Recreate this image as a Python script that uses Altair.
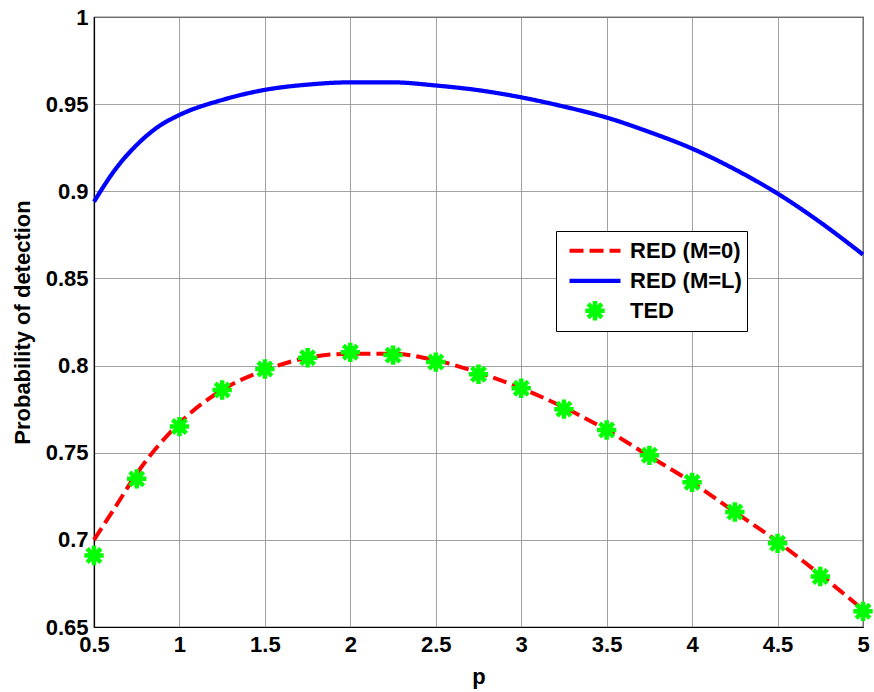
import altair as alt
import pandas as pd

# ---- data ----
p_blue = [0.5, 0.625, 0.75, 0.875, 1.0, 1.25, 1.5, 1.75, 2.0, 2.25, 2.5, 2.75, 3.0, 3.25, 3.5, 3.75, 4.0, 4.25, 4.5, 4.75, 5.0]
red_ml = [0.894, 0.9126, 0.9266, 0.937, 0.9438, 0.9524, 0.9582, 0.9612, 0.9625, 0.9625, 0.9607, 0.958, 0.9539, 0.9486, 0.9423, 0.934, 0.9245, 0.9126, 0.8987, 0.8822, 0.8637]

p_red = [0.5, 0.625, 0.75, 1.0, 1.25, 1.5, 1.75, 2.0, 2.25, 2.5, 2.75, 3.0, 3.25, 3.5, 3.75, 4.0, 4.25, 4.5, 4.75, 5.0]
red_m0 = [0.700, 0.7189, 0.738, 0.767, 0.786, 0.7974, 0.8045, 0.8068, 0.8068, 0.803, 0.796, 0.787, 0.776, 0.763, 0.748, 0.733, 0.716, 0.699, 0.680, 0.660]

p_ted = [0.5, 0.75, 1.0, 1.25, 1.5, 1.75, 2.0, 2.25, 2.5, 2.75, 3.0, 3.25, 3.5, 3.75, 4.0, 4.25, 4.5, 4.75, 5.0]
ted = [0.691, 0.735, 0.765, 0.786, 0.798, 0.8045, 0.8076, 0.806, 0.802, 0.795, 0.787, 0.775, 0.763, 0.7485, 0.733, 0.716, 0.698, 0.679, 0.659]

series_names = ["RED (M=0)", "RED (M=L)", "TED"]
x_ticks = [0.5, 1, 1.5, 2, 2.5, 3, 3.5, 4, 4.5, 5]
y_ticks = [0.65, 0.7, 0.75, 0.8, 0.85, 0.9, 0.95, 1.0]

lines_df = pd.concat([
    pd.DataFrame({"p": p_red, "v": red_m0, "series": series_names[0], "order": range(len(p_red))}),
    pd.DataFrame({"p": p_blue, "v": red_ml, "series": series_names[1], "order": range(len(p_blue))}),
])
ted_df = pd.DataFrame({"p": p_ted, "v": ted, "series": series_names[2]})

STAR = "M-0.38,0L0.38,0M0,-0.38L0,0.38M-0.27,-0.27L0.27,0.27M-0.27,0.27L0.27,-0.27"
FONT = "Liberation Sans"

x_enc = alt.X("p:Q", scale=alt.Scale(domain=[0.5, 5], nice=False, zero=False),
              axis=alt.Axis(values=x_ticks, format="~g", title="p",
                            labelFlush=False, labelOverlap=False,
                            titleBaseline="middle", titleY=49, labelPadding=7))
y_enc = alt.Y("v:Q", scale=alt.Scale(domain=[0.65, 1.0], nice=False, zero=False),
              axis=alt.Axis(values=y_ticks, format="~g", title="Probability of detection",
                            labelFlush=False, labelOverlap=False,
                            titleX=-72, titleY=305, titleBaseline="middle", titleAlign="center",
                            titleAngle=-90, labelPadding=6))

color_scale = alt.Scale(domain=series_names, range=["#ff0000", "#0000ff", "#00ff00"])
dash_scale = alt.Scale(domain=series_names, range=[[14, 6], [1, 0], [1, 0]])
sw_scale = alt.Scale(domain=series_names, range=[4, 4.5, 1.6])
shape_scale = alt.Scale(domain=series_names, range=["stroke", "stroke", STAR])

legend = alt.Legend(title=None, orient="none", legendX=462, legendY=214)

line_layer = alt.Chart(lines_df).mark_line(interpolate="monotone").encode(
    x=x_enc, y=y_enc,
    color=alt.Color("series:N", scale=color_scale, legend=legend),
    strokeDash=alt.StrokeDash("series:N", scale=dash_scale, legend=legend),
    strokeWidth=alt.StrokeWidth("series:N", scale=sw_scale, legend=legend),
    order="order:Q",
)

point_layer = alt.Chart(ted_df).mark_point(filled=False, size=2600, opacity=1).encode(
    x=x_enc, y=y_enc,
    color=alt.Color("series:N", scale=color_scale, legend=legend),
    shape=alt.Shape("series:N", scale=shape_scale, legend=legend),
    strokeWidth=alt.StrokeWidth("series:N", scale=sw_scale, legend=legend),
)

chart = alt.layer(line_layer, point_layer).properties(
    width=769, height=610,
    autosize=alt.AutoSizeParams(type="none"),
    padding={"left": 94, "top": 17, "right": 11, "bottom": 65},
    background="white",
).configure_view(
    stroke="black", strokeWidth=1.2
).configure_axis(
    labelFont=FONT, labelFontSize=22, labelFontWeight="bold", labelColor="black",
    titleFont=FONT, titleFontSize=22, titleFontWeight="bold", titleColor="black",
    domainColor="black", domainWidth=1.2, ticks=False,
    grid=True, gridColor="#8a8a8a", gridWidth=0.8,
).configure_legend(
    fillColor="white", strokeColor="black", padding=5, cornerRadius=0,
    symbolSize=2600, clipHeight=29.5, rowPadding=0,
    labelFont=FONT, labelFontSize=22, labelFontWeight="bold", labelColor="black",
    symbolOffset=6, labelOffset=7, symbolStrokeWidth=4,
)

chart.save("out.html", embed_options={"renderer": "svg", "actions": False})
